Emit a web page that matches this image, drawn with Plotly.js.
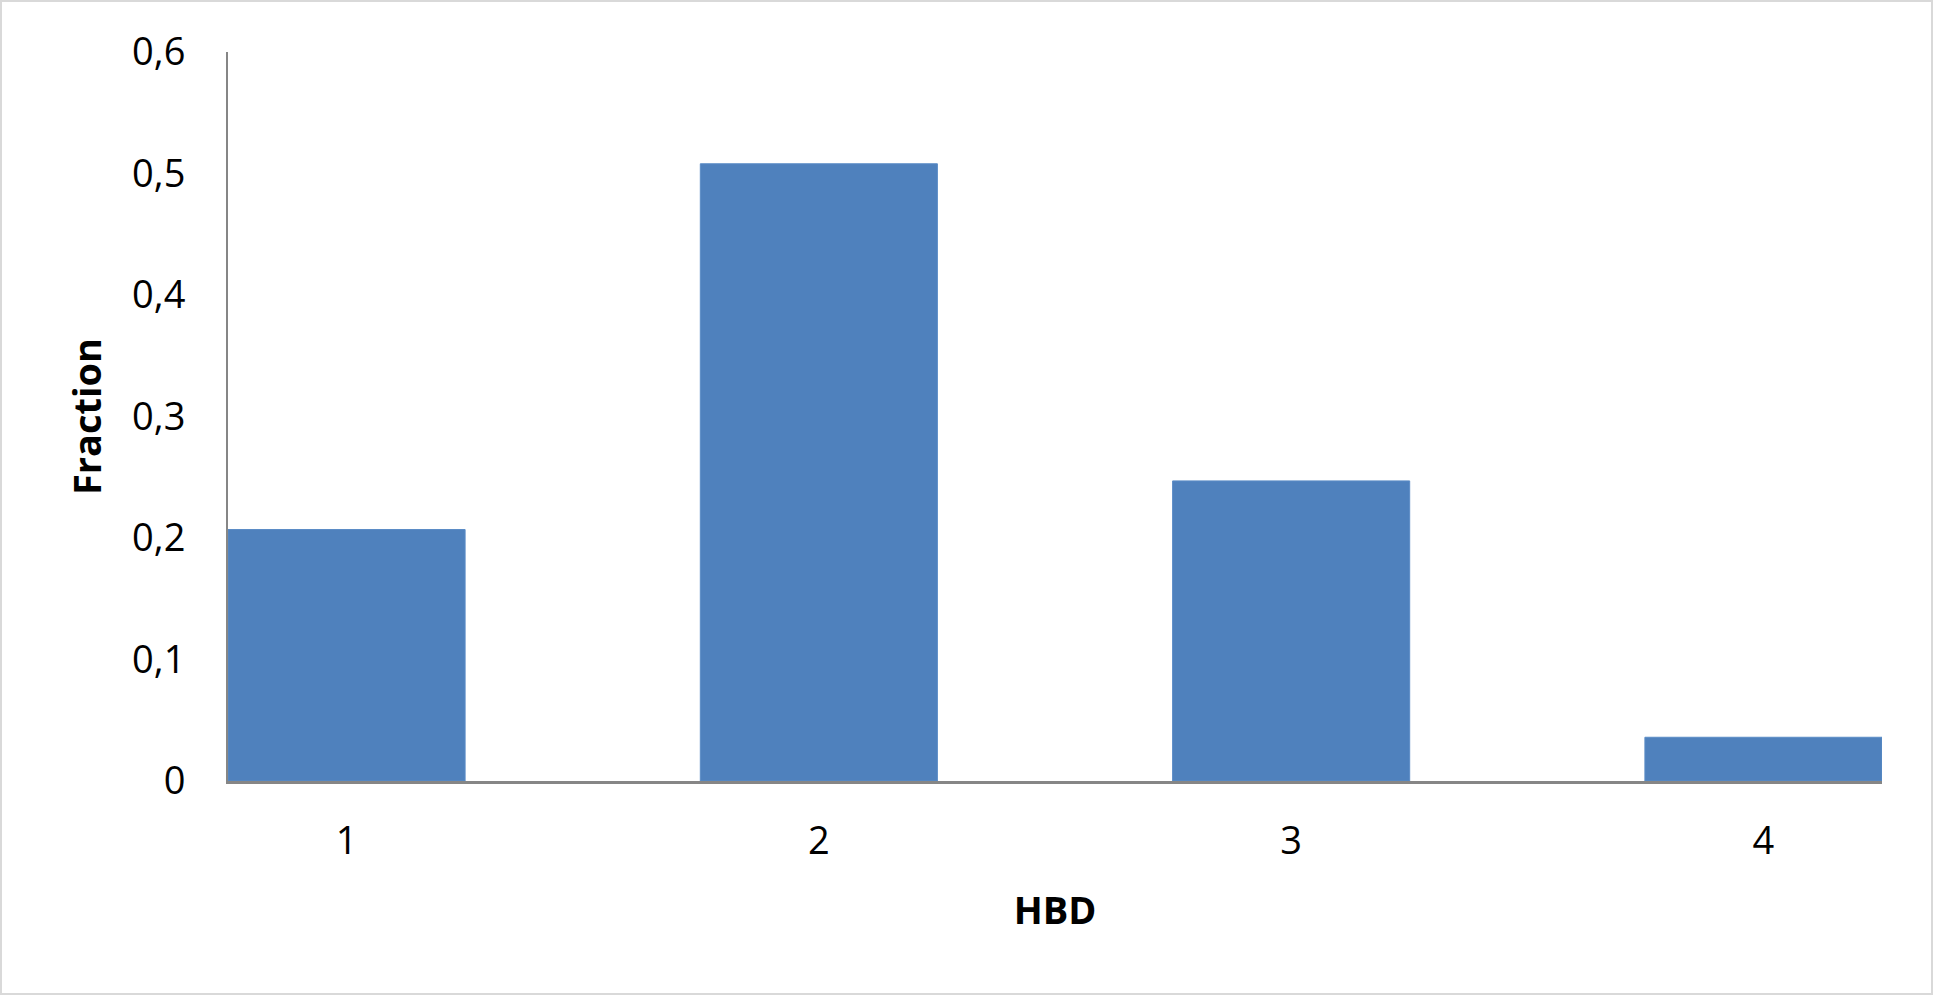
<!DOCTYPE html>
<html>
<head>
<meta charset="utf-8">
<script src="https://cdn.plot.ly/plotly-3.0.1.min.js"></script>
<style>
  html, body { margin: 0; padding: 0; background: #ffffff; }
  #wrap { position: relative; width: 1933px; height: 995px; }
  #chart { width: 1933px; height: 995px; }
  #frame { position: absolute; left: 0; top: 0; width: 1929px; height: 991px; border: 2px solid #d9d9d9; pointer-events: none; }
</style>
</head>
<body>
<div id="wrap">
  <div id="chart"></div>
  <div id="frame"></div>
</div>
<script>
const categories = ["1", "2", "3", "4"];
const fractions = [0.207, 0.508, 0.247, 0.036];
const yTickValues = [0, 0.1, 0.2, 0.3, 0.4, 0.5, 0.6];
const xTitle = "HBD";
const yTitle = "Fraction";

const trace = {
  type: "bar",
  x: categories,
  y: fractions,
  marker: { color: "#4F81BD", line: { color: "#5B8CC6", width: 1 } },
  hoverinfo: "x+y"
};

const layout = {
  width: 1933,
  height: 995,
  margin: { l: 228, r: 51, t: 52, b: 214 },
  paper_bgcolor: "#ffffff",
  plot_bgcolor: "#ffffff",
  separators: ", ",
  bargap: 0.498,
  showlegend: false,
  font: { family: "Open Sans, sans-serif", color: "#000000" },
  xaxis: {
    type: "category",
    range: [-0.251, 3.251],
    showgrid: false,
    zeroline: false,
    showline: true,
    linecolor: "#868686",
    linewidth: 3,
    ticks: "",
    ticklabelstandoff: 24,
    tickfont: { size: 38, color: "#000000" },
    title: { text: xTitle, font: { size: 38, color: "#000000", weight: "bold" }, standoff: 34 }
  },
  yaxis: {
    range: [0, 0.6],
    tickvals: yTickValues,
    showgrid: false,
    zeroline: false,
    showline: true,
    linecolor: "#868686",
    linewidth: 2,
    ticks: "",
    ticklabelstandoff: 33,
    tickfont: { size: 38, color: "#000000" },
    title: { text: yTitle, font: { size: 38, color: "#000000", weight: "bold" }, standoff: 19 }
  }
};

Plotly.newPlot("chart", [trace], layout, { displayModeBar: false, staticPlot: true });
</script>
</body>
</html>
